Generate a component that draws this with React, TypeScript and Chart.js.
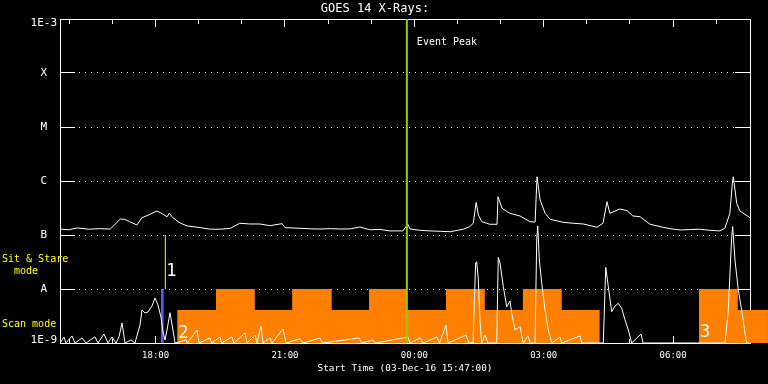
import React, { useEffect, useRef } from 'react';
import { Chart, registerables } from 'chart.js';

Chart.register(...registerables);

const FONT = "'DejaVu Sans Mono', monospace";
const ORANGE = '#ff8000';

// x axis: minutes since start (03-Dec-16 15:47:00)
const xMax = 960;
const xTickMinutes = [133, 313, 493, 673, 853];
const xTickLabels = ['18:00', '21:00', '00:00', '03:00', '06:00'];
const hourTicks = [13, 73, 133, 193, 253, 313, 373, 433, 493, 553, 613, 673, 733, 793, 853, 913];
const majorHourTicks = [133, 313, 493, 673, 853];

// y axis: flux decades and GOES classes
const yTickValues = [1e-9, 1e-8, 1e-7, 1e-6, 1e-5, 1e-4, 1e-3];
const yTickLabels = ['1E-9', 'A', 'B', 'C', 'M', 'X', '1E-3'];

// GOES long channel (1-8 A)
const longTimes = [0, 12, 24, 40, 55, 70, 84, 90, 97, 107, 114, 121, 128, 135, 142, 149, 152, 157, 167, 177, 195, 209, 223, 237, 250, 264, 278, 292, 309, 313, 334, 350, 362, 376, 390, 404, 417, 431, 445, 459, 477, 484, 487, 501, 515, 529, 543, 561, 570, 575, 579, 582, 587, 598, 608, 609.4, 615, 626, 640, 654, 661, 663.7, 668, 675, 682, 700, 714, 728, 747, 755.5, 761, 765, 779, 789, 797, 807, 821, 839, 850, 863, 877, 890, 904, 918, 925, 932, 935.4, 936.8, 941.5, 946, 960];
const longValues = [1.29e-7, 1.25e-7, 1.35e-7, 1.28e-7, 1.31e-7, 1.29e-7, 1.98e-7, 1.95e-7, 1.76e-7, 1.53e-7, 2.09e-7, 2.28e-7, 2.52e-7, 2.78e-7, 2.48e-7, 2.18e-7, 2.52e-7, 2.09e-7, 1.67e-7, 1.47e-7, 1.37e-7, 1.28e-7, 1.28e-7, 1.33e-7, 1.65e-7, 1.6e-7, 1.6e-7, 1.49e-7, 1.62e-7, 1.37e-7, 1.33e-7, 1.3e-7, 1.29e-7, 1.31e-7, 1.29e-7, 1.3e-7, 1.41e-7, 1.25e-7, 1.27e-7, 1.19e-7, 1.19e-7, 1.58e-7, 1.29e-7, 1.22e-7, 1.19e-7, 1.17e-7, 1.15e-7, 1.28e-7, 1.43e-7, 1.65e-7, 4.03e-7, 2.35e-7, 1.76e-7, 1.58e-7, 1.58e-7, 5.12e-7, 3.12e-7, 2.52e-7, 2.25e-7, 1.76e-7, 1.74e-7, 1.2e-6, 4.45e-7, 2.52e-7, 1.95e-7, 1.72e-7, 1.65e-7, 1.6e-7, 1.39e-7, 1.65e-7, 4.14e-7, 2.52e-7, 3.03e-7, 2.82e-7, 2.25e-7, 2.18e-7, 1.58e-7, 1.39e-7, 1.3e-7, 1.24e-7, 1.26e-7, 1.28e-7, 1.22e-7, 1.19e-7, 1.33e-7, 2.52e-7, 9.06e-7, 1.2e-6, 3.86e-7, 2.78e-7, 2.09e-7];

// GOES short channel (0.5-4 A)
const shortTimes = [0, 5.6, 8.3, 16.7, 20.9, 30.6, 36.2, 48.7, 52.9, 61.2, 66.8, 72.3, 77.9, 82.1, 86.3, 90.4, 98.8, 104.3, 111.3, 114.1, 118.3, 122.4, 128, 132.2, 136.3, 140.5, 143.3, 146.1, 148.9, 153, 157.2, 160, 175.3, 177, 190.6, 193.4, 208.7, 211, 222.6, 225, 239.3, 242, 257.4, 260.2, 271.3, 274, 279.7, 282.4, 292.2, 295, 310.3, 314.4, 333.9, 338, 361.7, 365, 416, 420, 435.5, 439, 484.2, 487, 501, 505, 524.5, 528, 537, 539.8, 564.9, 569, 574.6, 578.3, 579.7, 581.9, 584.3, 586.6, 591.3, 595.5, 607.6, 609.8, 612.2, 616.8, 621.5, 626.1, 628.5, 633, 640, 644.6, 651.1, 653.9, 660.9, 663.3, 664.7, 666.9, 670.2, 674.8, 679.4, 684.1, 695.7, 698, 723.5, 726, 755.9, 759.3, 762.9, 767.6, 772.2, 776.8, 781.5, 786.1, 790.7, 795.4, 808.4, 811.2, 925.2, 929.8, 934.5, 935.9, 939.1, 943.7, 948.4, 953, 955.4, 960];
const shortValues = [1e-9, 1.29e-9, 1e-9, 1.35e-9, 1e-9, 1.24e-9, 1e-9, 1.3e-9, 1e-9, 1.47e-9, 1e-9, 1.29e-9, 1e-9, 1.3e-9, 2.35e-9, 1e-9, 1.14e-9, 1e-9, 2.15e-9, 4.08e-9, 3.59e-9, 3.75e-9, 4.84e-9, 6.81e-9, 5.06e-9, 3e-9, 1.6e-9, 1.14e-9, 1.74e-9, 3.64e-9, 1.74e-9, 1e-9, 1.14e-9, 1e-9, 1.74e-9, 1e-9, 1.24e-9, 1e-9, 1.29e-9, 1e-9, 1.3e-9, 1e-9, 1.53e-9, 1e-9, 1.4e-9, 1e-9, 2.06e-9, 1e-9, 1.24e-9, 1e-9, 1.82e-9, 1e-9, 1.2e-9, 1e-9, 1.24e-9, 1e-9, 1.24e-9, 1e-9, 1.14e-9, 1e-9, 1.29e-9, 1e-9, 1.24e-9, 1e-9, 1.29e-9, 1e-9, 2.15e-9, 1e-9, 1.4e-9, 1e-9, 1e-9, 3.03e-8, 3.2e-8, 1.6e-8, 2.67e-9, 1e-9, 1.4e-9, 1e-9, 1e-9, 3.86e-8, 3.03e-8, 1.1e-8, 4.7e-9, 6e-9, 3.55e-9, 1.74e-9, 2.01e-9, 1e-9, 1.35e-9, 1e-9, 1e-9, 8.08e-8, 1.47e-7, 3.44e-8, 1.28e-8, 4.08e-9, 1.74e-9, 1e-9, 1.29e-9, 1e-9, 1.35e-9, 1e-9, 1e-9, 2.52e-8, 1.1e-8, 3.8e-9, 4.84e-9, 5.43e-9, 4.39e-9, 2.67e-9, 1.74e-9, 1e-9, 1.47e-9, 1e-9, 1e-9, 4.08e-9, 9.31e-8, 1.43e-7, 3.44e-8, 9.58e-9, 4.08e-9, 1.53e-9, 1e-9, 1e-9];

// observing mode blocks
const modeStarts = [163, 217, 271, 323, 378, 430, 482, 537, 591, 644, 698, 889, 943];
const modeEnds = [217, 271, 323, 378, 430, 482, 537, 591, 644, 698, 751, 943, 985];
const modeKinds = ['scan', 'stare', 'scan', 'stare', 'scan', 'stare', 'scan', 'stare', 'scan', 'stare', 'scan', 'stare', 'scan'];
const scanLevel = 4.1e-9;
const stareLevel = 1e-8;

// markers
const eventPeakTime = 482.6;
const blueMarkTime = 142.3;
const yellowMarkTime = 146.5;
const noteLabels = ['1', '2', '3'];
const noteTimes = [146.5, 163, 889];
const noteValues = [2.07e-8, 1.47e-9, 1.58e-9];
const eventLabelValue = 3.7e-4;
const modeLabelTexts = ['Sit & Stare', '  mode', 'Scan mode'];
const modeLabelValues = [3.6e-8, 2.15e-8, 2.25e-9];

const pts = (xs: number[], ys: (number | null)[]) => xs.map((x, i) => ({ x, y: ys[i] }));

function buildModePoints() {
  const out: { x: number; y: number | null }[] = [];
  modeStarts.forEach((s, i) => {
    const lvl = modeKinds[i] === 'stare' ? stareLevel : scanLevel;
    if (i > 0 && modeEnds[i - 1] !== s) out.push({ x: (modeEnds[i - 1] + s) / 2, y: null });
    out.push({ x: s, y: lvl }, { x: modeEnds[i], y: lvl });
  });
  return out;
}

const levelIndex = (v: number) =>
  yTickValues.findIndex((t) => Math.abs(Math.log10(t) - Math.log10(v)) < 1e-6);

const overlayPlugin = {
  id: 'overlay',
  afterDatasetsDraw(chart: any) {
    const { ctx, chartArea } = chart;
    const xs = chart.scales.x;
    const ys = chart.scales.y;
    ctx.save();
    ctx.fillStyle = ORANGE;
    modeStarts.forEach((s, i) => {
      const lvl = modeKinds[i] === 'stare' ? stareLevel : scanLevel;
      const x0 = Math.max(xs.getPixelForValue(s), chartArea.right);
      const x1 = xs.getPixelForValue(modeEnds[i]);
      if (x1 > x0) {
        const yTop = ys.getPixelForValue(lvl);
        ctx.fillRect(x0, yTop, x1 - x0, chartArea.bottom - yTop);
      }
    });
    ctx.textBaseline = 'middle';
    ctx.textAlign = 'left';
    ctx.fillStyle = '#ffffff';
    ctx.font = `10px ${FONT}`;
    ctx.fillText('Event Peak', xs.getPixelForValue(eventPeakTime) + 10, ys.getPixelForValue(eventLabelValue));
    ctx.font = `17px ${FONT}`;
    noteLabels.forEach((t, i) => {
      ctx.fillText(t, xs.getPixelForValue(noteTimes[i]) + 1, ys.getPixelForValue(noteValues[i]));
    });
    ctx.fillStyle = '#ffff00';
    ctx.font = `10px ${FONT}`;
    modeLabelTexts.forEach((t, i) => {
      ctx.fillText(t, 2, ys.getPixelForValue(modeLabelValues[i]));
    });
    ctx.restore();
  },
};

export default function App() {
  const ref = useRef<HTMLCanvasElement>(null);

  useEffect(() => {
    const canvas = ref.current;
    if (!canvas) return;
    const white = '#ffffff';
    const vline = (t: number, lo: number, hi: number) => [
      { x: t, y: lo },
      { x: t, y: hi },
    ];
    const common = { xAxisID: 'x', yAxisID: 'y', pointRadius: 0, tension: 0, fill: false };
    const lastY = yTickValues.length - 1;
    const chart = new Chart(canvas, {
      type: 'line',
      data: {
        datasets: [
          { ...common, label: 'Event Peak', data: vline(eventPeakTime, 1e-9, 1e-3), borderColor: '#99cc00', borderWidth: 2, order: 0 },
          { ...common, label: '1-8 A', data: pts(longTimes, longValues), borderColor: white, borderWidth: 1, order: 1 },
          { ...common, label: '0.5-4 A', data: pts(shortTimes, shortValues), borderColor: white, borderWidth: 1, order: 2 },
          { ...common, label: 'mark1', data: vline(yellowMarkTime, 1e-8, 1e-7), borderColor: '#ffff00', borderWidth: 1, order: 3 },
          { ...common, label: 'mark0', data: vline(blueMarkTime, 1e-9, 1e-8), borderColor: '#5c5cff', borderWidth: 2.5, order: 4 },
          {
            ...common,
            label: 'mode',
            data: buildModePoints(),
            borderColor: ORANGE,
            borderWidth: 0,
            backgroundColor: ORANGE,
            fill: 'start',
            spanGaps: false,
            clip: false,
            order: 5,
          },
        ] as any,
      },
      options: {
        responsive: false,
        animation: false,
        events: [],
        layout: { padding: { left: 0, right: 18, top: 0, bottom: 0 } },
        plugins: {
          legend: { display: false },
          tooltip: { enabled: false },
          title: {
            display: true,
            text: 'GOES 14 X-Rays:',
            color: white,
            font: { family: FONT, size: 12, weight: 'normal' },
            padding: { top: 2, bottom: 2.6 },
          },
        },
        scales: {
          x: {
            type: 'linear',
            position: 'bottom',
            min: 0,
            max: xMax,
            afterBuildTicks: (s: any) => {
              s.ticks = xTickMinutes.map((v) => ({ value: v }));
            },
            afterFit: (s: any) => {
              s.height = 41;
              s.paddingLeft = 0;
              s.paddingRight = 0;
            },
            ticks: {
              color: white,
              font: { family: FONT, size: 9 },
              autoSkip: false,
              maxRotation: 0,
              padding: 7,
              callback: (v: any) => xTickLabels[xTickMinutes.indexOf(Number(v))] ?? '',
            },
            grid: { display: false, drawTicks: false },
            border: { display: true, color: white },
            title: {
              display: true,
              text: 'Start Time (03-Dec-16 15:47:00)',
              color: white,
              font: { family: FONT, size: 9.4 },
              padding: { top: 0, bottom: 10 },
            },
          },
          y: {
            type: 'logarithmic',
            position: 'left',
            min: 1e-9,
            max: 1e-3,
            afterBuildTicks: (s: any) => {
              s.ticks = yTickValues.map((v) => ({ value: v }));
            },
            afterFit: (s: any) => {
              s.width = 60;
              s.paddingTop = 0;
              s.paddingBottom = 0;
            },
            ticks: {
              color: white,
              font: (c: any) => ({
                family: FONT,
                size: 11,
                lineHeight: c.index === lastY ? '9px' : '6px',
              }),
              crossAlign: 'center',
              padding: 18,
              autoSkip: false,
              callback: (v: any) => {
                const i = levelIndex(Number(v));
                if (i === 0) return [yTickLabels[i], ''];
                if (i === lastY) return ['', yTickLabels[i]];
                return yTickLabels[i] ?? '';
              },
            },
            grid: { color: white, drawTicks: true, tickLength: -15, tickColor: white },
            border: { display: true, color: white, dash: [1, 5] },
          },
          yRight: {
            type: 'logarithmic',
            axis: 'y',
            position: { x: xMax },
            min: 1e-9,
            max: 1e-3,
            afterBuildTicks: (s: any) => {
              s.ticks = yTickValues.map((v) => ({ value: v }));
            },
            afterFit: (s: any) => {
              s.paddingTop = 0;
              s.paddingBottom = 0;
            },
            ticks: { display: false },
            grid: { drawOnChartArea: false, drawTicks: true, tickLength: 15, color: white },
            border: { display: true, color: white },
          },
          xTopMinor: {
            type: 'linear',
            axis: 'x',
            position: { y: 1e-3 },
            min: 0,
            max: xMax,
            afterBuildTicks: (s: any) => {
              s.ticks = hourTicks.map((v) => ({ value: v }));
            },
            ticks: { display: false },
            grid: { drawOnChartArea: false, drawTicks: true, tickLength: 4, color: white },
            border: { display: true, color: white },
          },
          xTopMajor: {
            type: 'linear',
            axis: 'x',
            position: { y: 1e-3 },
            min: 0,
            max: xMax,
            afterBuildTicks: (s: any) => {
              s.ticks = majorHourTicks.map((v) => ({ value: v }));
            },
            ticks: { display: false },
            grid: { drawOnChartArea: false, drawTicks: true, tickLength: 7, color: white },
            border: { display: true, color: white },
          },
          xBotMinor: {
            type: 'linear',
            axis: 'x',
            position: { y: 1e-9 },
            min: 0,
            max: xMax,
            afterBuildTicks: (s: any) => {
              s.ticks = hourTicks.map((v) => ({ value: v }));
            },
            ticks: { display: false },
            grid: { drawOnChartArea: false, drawTicks: true, tickLength: -4, color: white },
            border: { display: false },
          },
          xBotMajor: {
            type: 'linear',
            axis: 'x',
            position: { y: 1e-9 },
            min: 0,
            max: xMax,
            afterBuildTicks: (s: any) => {
              s.ticks = majorHourTicks.map((v) => ({ value: v }));
            },
            ticks: { display: false },
            grid: { drawOnChartArea: false, drawTicks: true, tickLength: -7, color: white },
            border: { display: false },
          },
        } as any,
      },
      plugins: [overlayPlugin],
    } as any);
    return () => chart.destroy();
  }, []);

  return (
    <div style={{ position: 'fixed', left: 0, top: 0, width: 768, height: 384, background: '#000' }}>
      <canvas ref={ref} width={768} height={384} style={{ display: 'block', width: 768, height: 384 }} />
    </div>
  );
}
